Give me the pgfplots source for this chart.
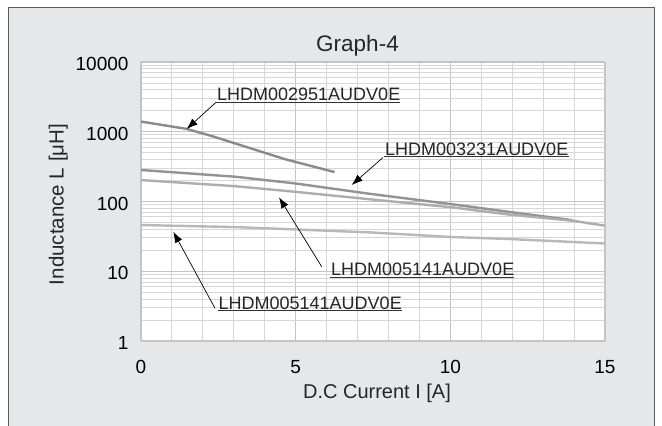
\documentclass[border=0pt]{standalone}
\usepackage{pgfplots}
\pgfplotsset{compat=1.18}
\usepackage{fontspec}
\setmainfont{Liberation Sans}
\usetikzlibrary{arrows.meta}
\definecolor{panel}{HTML}{E6E7E8}
\definecolor{frame}{HTML}{5A5A5A}
\definecolor{gridmaj}{HTML}{C4C4C4}
\definecolor{gridmin}{HTML}{D6D6D6}
\definecolor{cdark}{HTML}{8A8A8A}
\definecolor{cmid}{HTML}{939393}
\definecolor{clight}{HTML}{ADADAD}
\definecolor{clight2}{HTML}{B8B8B8}

\begin{document}
\begin{tikzpicture}[x=1pt,y=1pt]
\fill[white] (0,0) rectangle (662,-426);
\fill[panel] (8.5,-7.5) rectangle (654.5,-426);
\draw[frame,line width=1.5pt] (8.5,-426) -- (8.5,-7.5) -- (654.5,-7.5) -- (654.5,-426);

\begin{axis}[
  at={(141pt,-341pt)}, anchor=south west,
  scale only axis, width=464pt, height=279pt,
  xmin=0, xmax=15, ymin=1, ymax=10000, ymode=log,
  xtick={0,5,10,15}, xticklabels={0,5,10,15},
  minor xtick={1,2,3,4,6,7,8,9,11,12,13,14},
  ytick={1,10,100,1000,10000}, yticklabels={1,10,100,1000,10000},
  grid=both,
  major grid style={draw=gridmaj, line width=1.2pt},
  minor grid style={draw=gridmin, line width=1pt},
  axis line style={draw=gridmaj, line width=1pt},
  tick style={draw=none},
  axis background/.style={fill=white},
  ticklabel style={font=\fontsize{19}{19}\selectfont},
  xticklabel style={yshift=-16pt},
  yticklabel style={xshift=-9pt, yshift=-2pt},
  /pgf/number format/assume math mode=true,
]
% LHDM002951AUDV0E
\addplot[cdark, line width=2.4pt] coordinates {
  (0,1400) (1.47,1100) (2.28,870) (3.03,683) (4.65,405) (6.26,264)};
% LHDM003231AUDV0E
\addplot[cmid, line width=2.4pt] coordinates {
  (0,283) (3.03,227) (4.97,182) (7.45,128) (10,92) (11.9,71) (13.95,54)};
% LHDM005141AUDV0E (upper)
\addplot[clight, line width=2.4pt] coordinates {
  (0,203) (3.03,166) (4.97,138) (7.45,107) (10,83) (11.9,65) (13.95,53) (15,45)};
% LHDM005141AUDV0E (lower)
\addplot[clight2, line width=2.4pt] coordinates {
  (0,46) (3.03,43) (7.45,36) (10,31) (11.9,29) (15,25)};
\end{axis}

% title and axis labels
\node[anchor=base, font=\fontsize{22.5}{22.5}\selectfont, text=black!85] at (357.5,-51.7) {Graph-4};
\node[anchor=base, font=\fontsize{20}{20}\selectfont, text=black!85] at (377,-398.3) {D.C Current I [A]};
\node[anchor=base, rotate=90, font=\fontsize{20.5}{20.5}\selectfont, text=black!85] at (63.6,-204.5) {Inductance L [μH]};

% annotations
\tikzset{lbl/.style={anchor=base west, inner sep=0pt, font=\fontsize{18}{18}\selectfont, text=black!85},
         arr/.style={line width=0.7pt, -{Latex[length=11pt,width=8pt]}}}
\node[lbl] at (217,-100.6) {LHDM002951AUDV0E};
\draw[black!80, line width=0.8pt] (216,-102.3) -- (400,-102.3);
\draw[arr] (216,-102.3) -- (186.7,-129);

\node[lbl] at (385,-155) {LHDM003231AUDV0E};
\draw[black!80, line width=0.8pt] (384,-156.7) -- (569,-156.7);
\draw[arr] (383,-157.5) -- (351.7,-185);

\node[lbl] at (331,-275) {LHDM005141AUDV0E};
\draw[black!80, line width=0.8pt] (330,-277.3) -- (514,-277.3);
\draw[arr] (321.7,-266.7) -- (279,-197.3);

\node[lbl] at (218.5,-309) {LHDM005141AUDV0E};
\draw[black!80, line width=0.8pt] (217.5,-310.7) -- (401.7,-310.7);
\draw[arr] (215,-308.3) -- (173.3,-231.7);

\pgfresetboundingbox
\useasboundingbox (0,0) rectangle (662,-426);
\end{tikzpicture}
\end{document}
